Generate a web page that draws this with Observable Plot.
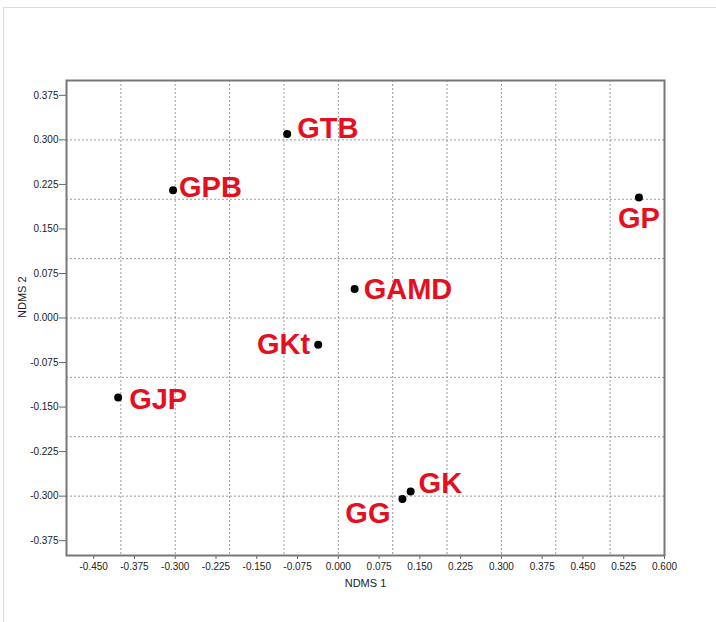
<!DOCTYPE html>
<html>
<head>
<meta charset="utf-8">
<script src="https://cdn.jsdelivr.net/npm/d3@7"></script>
<script src="https://cdn.jsdelivr.net/npm/@observablehq/plot@0.6"></script>
<style>
  html, body { margin: 0; padding: 0; background: #fff; }
  #wrap { position: relative; width: 716px; height: 622px; overflow: hidden; }
  #border { position: absolute; left: 3px; top: 7px; right: -2px; bottom: -2px;
            border-top: 1px solid #dcdcdc; border-left: 1px solid #dcdcdc; }
  #chart { position: absolute; left: 0; top: 0; }
</style>
</head>
<body>
<div id="wrap"><div id="border"></div><div id="chart"></div></div>
<script>
// Site names and NMDS coordinates
const sites = ["GTB", "GPB", "GAMD", "GP", "GKt", "GJP", "GK", "GG"];
const ndms1 = [-0.094, -0.304, 0.030, 0.553, -0.037, -0.405, 0.133, 0.118];
const ndms2 = [0.310, 0.215, 0.049, 0.203, -0.045, -0.134, -0.292, -0.305];

// Axis tick values
const xTicks = [-0.45, -0.375, -0.3, -0.225, -0.15, -0.075, 0, 0.075, 0.15, 0.225, 0.3, 0.375, 0.45, 0.525, 0.6];
const yTicks = [-0.375, -0.3, -0.225, -0.15, -0.075, 0, 0.075, 0.15, 0.225, 0.3, 0.375];
// Grid line values
const xGrid = [-0.4, -0.3, -0.2, -0.1, 0, 0.1, 0.2, 0.3, 0.4, 0.5];
const yGrid = [-0.3, -0.2, -0.1, 0, 0.1, 0.2, 0.3];

const xLabel = "NDMS 1";
const yLabel = "NDMS 2";

const data = sites.map((s, i) => ({site: s, x: ndms1[i], y: ndms2[i]}));

// label placement (style)
const place = {
  GTB:  {dx: 10, dy: -5, anchor: "start"},
  GPB:  {dx: 6,  dy: -3, anchor: "start"},
  GAMD: {dx: 9,  dy: 1,  anchor: "start"},
  GP:   {dx: 0,  dy: 21, anchor: "middle"},
  GKt:  {dx: -8, dy: 0,  anchor: "end"},
  GJP:  {dx: 11, dy: 2,  anchor: "start"},
  GK:   {dx: 8,  dy: -8, anchor: "start"},
  GG:   {dx: -12, dy: 15, anchor: "end"}
};

const fmt = d => d.toFixed(3);
const FONT = "'Liberation Sans', Arial, sans-serif";

const labelMarks = data.map(d => Plot.text([d], {
  x: "x", y: "y", text: "site",
  dx: place[d.site].dx, dy: place[d.site].dy,
  textAnchor: place[d.site].anchor,
  fill: "#e5101f", fontSize: 29, fontWeight: "bold", fontFamily: FONT
}));

const chart = Plot.plot({
  width: 716,
  height: 622,
  marginLeft: 66,
  marginTop: 80,
  marginRight: 52,
  marginBottom: 67,
  style: {fontFamily: FONT, background: "transparent"},
  x: {domain: [-0.5, 0.6], label: null},
  y: {domain: [-0.4, 0.4], label: null},
  marks: [
    Plot.ruleX(xGrid, {stroke: "#999", strokeDasharray: "2,2", strokeWidth: 1}),
    Plot.ruleY(yGrid, {stroke: "#999", strokeDasharray: "2,2", strokeWidth: 1}),
    Plot.axisX({ticks: xTicks, tickFormat: fmt, tickSize: 4, tickPadding: 3,
                fontSize: 10, stroke: "#666", color: "#222", label: null}),
    Plot.axisY({ticks: yTicks, tickFormat: fmt, tickSize: 7, tickPadding: 1,
                fontSize: 10, stroke: "#666", color: "#222", label: null}),
    Plot.frame({stroke: "#777", strokeWidth: 2}),
    Plot.dot(data, {x: "x", y: "y", r: 4, fill: "#000", stroke: "none"}),
    ...labelMarks,
    Plot.text([xLabel], {text: d => d, frameAnchor: "bottom", dy: 31,
                         fontSize: 11, fill: "#222", fontFamily: FONT}),
    Plot.text([yLabel], {text: d => d, frameAnchor: "left", dx: -44, rotate: -90,
                         fontSize: 11, fill: "#222", fontFamily: FONT})
  ]
});
document.getElementById("chart").appendChild(chart);
</script>
</body>
</html>
